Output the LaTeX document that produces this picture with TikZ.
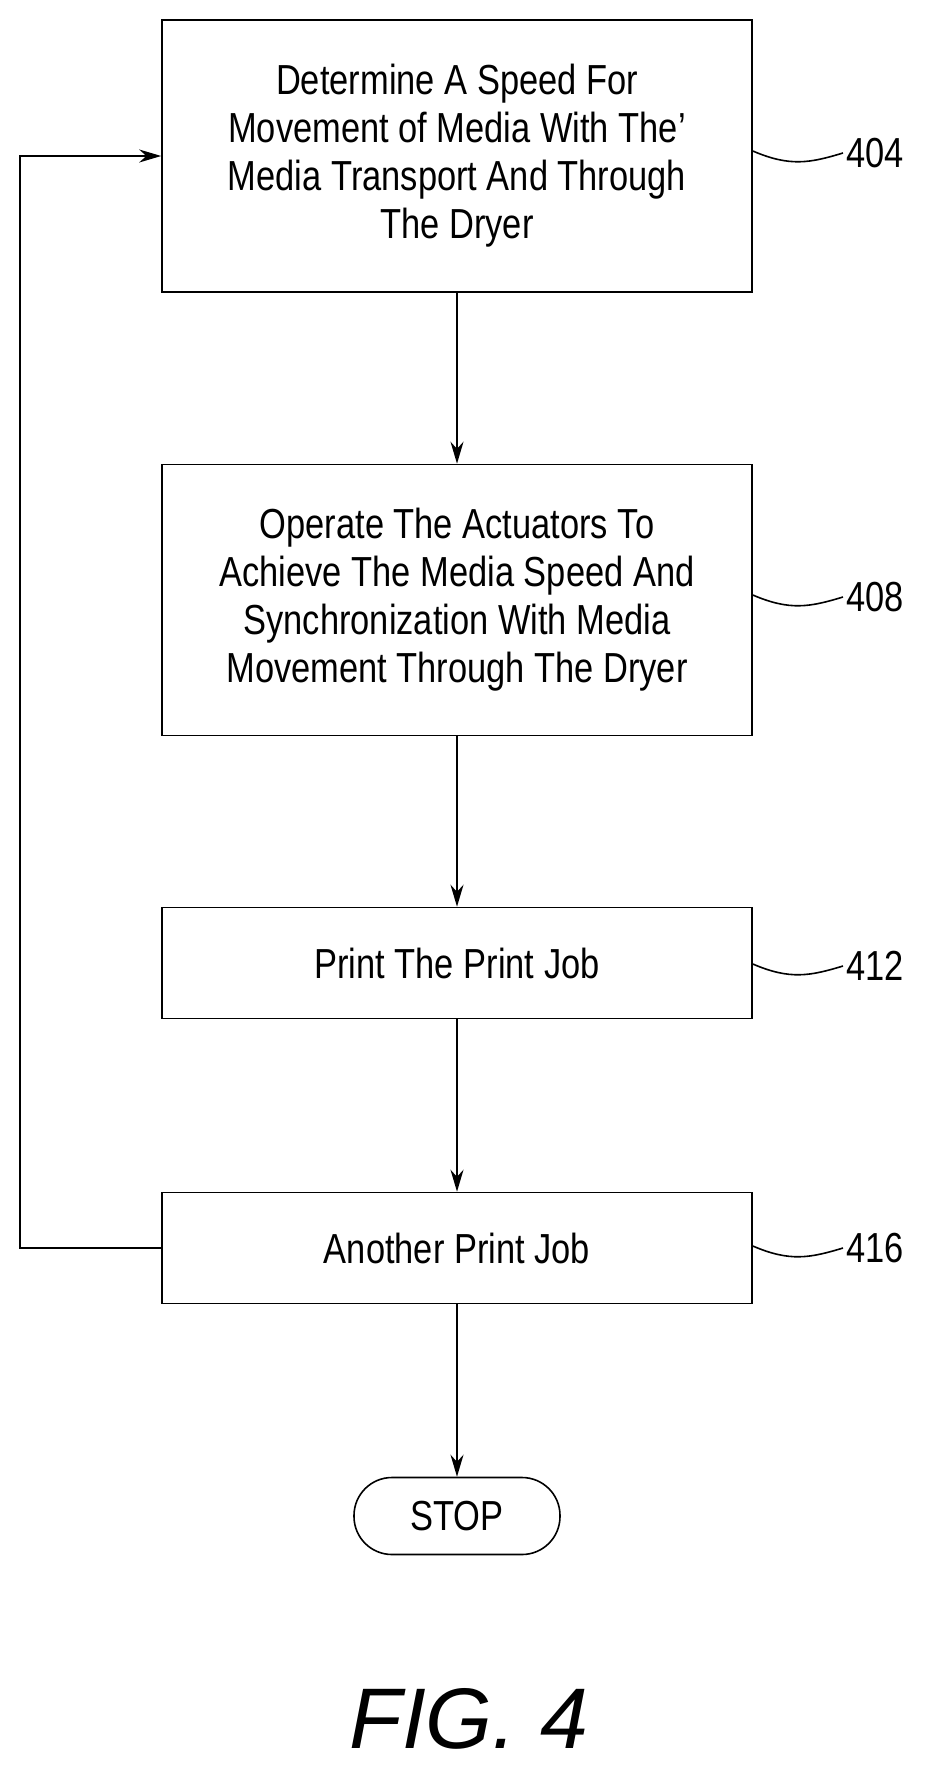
\documentclass[tikz,border=0pt]{standalone}
\usepackage{fontspec}
\setmainfont{Liberation Sans}
\newfontfamily\cond[FakeStretch=0.82]{Liberation Sans}
\usetikzlibrary{arrows.meta,positioning}
\begin{document}
\begin{tikzpicture}[x=1pt,y=-1pt,
  box/.style={draw,line width=1.6pt,minimum width=590pt,align=center,inner sep=0pt,font=\cond\fontsize{42}{48}\selectfont},
  arr/.style={line width=1.6pt,-{Stealth[length=22pt,width=13pt]}},
  lead/.style={line width=1.6pt},
  lbl/.style={font=\cond\fontsize{42}{48}\selectfont,anchor=west}]
\useasboundingbox (0,0) rectangle (939,1772);
\node[box,minimum height=272pt] (b1) at (457,156) {Determine A Speed For\\Movement of Media With The’\\Media Transport And Through\\The Dryer};
\node[box,minimum height=271pt] (b2) at (457,600) {Operate The Actuators To\\Achieve The Media Speed And\\Synchronization With Media\\Movement Through The Dryer};
\node[box,minimum height=111pt] (b3) at (457,963) {Print The Print Job};
\node[box,minimum height=111pt] (b4) at (457,1248) {Another Print Job};
\node[draw,line width=1.6pt,rounded corners=38pt,minimum width=206pt,minimum height=77pt,inner sep=0pt,font=\cond\fontsize{42}{48}\selectfont] (stop) at (457,1516) {STOP};
\draw[arr] (b1) -- (b2);
\draw[arr] (b2) -- (b3);
\draw[arr] (b3) -- (b4);
\draw[arr] (b4) -- (stop);
\coordinate (lp) at (20,1248);
\draw[arr] (b4.west) -- (lp) |- (b1.west);
\foreach \n/\y/\t in {b1/153/404,b2/597/408,b3/966/412,b4/1248/416}{
  \node[lbl] (l\t) at (843,\y) {\t};
  \draw[lead] (\n.east |- 0,\y-2) .. controls (790,\y+14) and (810,\y+10) .. (l\t.west);
}
\node[font=\itshape\fontsize{86}{90}\selectfont] (fig) at (469,1719) {FIG. 4};
\end{tikzpicture}
\end{document}
